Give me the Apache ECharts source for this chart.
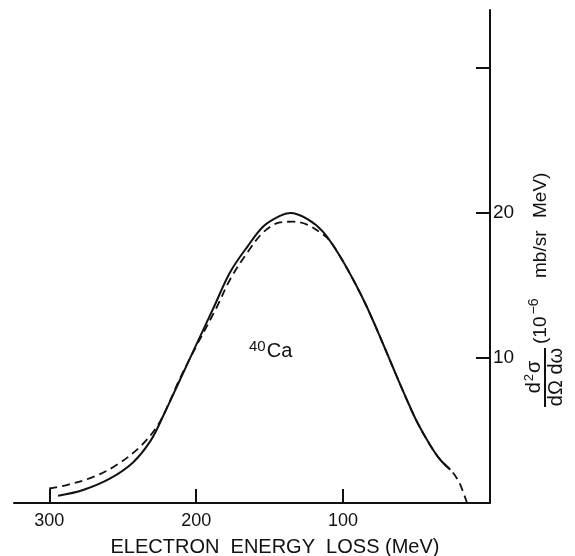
<!DOCTYPE html>
<html>
<head>
<meta charset="utf-8">
<script src="https://cdn.jsdelivr.net/npm/echarts@6/dist/echarts.min.js"></script>
<style>
  html, body { margin: 0; padding: 0; background: #fff; }
  #main { width: 575px; height: 556px; }
</style>
</head>
<body>
<div id="main"></div>
<script>
// energy loss (MeV) and d2sigma/dOmega domega (10^-6 mb/sr MeV)
var solidLoss = [294, 277, 258.5, 243, 231, 222, 211, 200, 188, 177, 165, 154, 143, 136, 124.5, 113.6, 102, 90.5, 83.7, 75, 64.6, 56.5, 49.7, 40.8, 34, 27];
var solidVal  = [0.5, 0.9, 1.7, 2.8, 4.3, 6.1, 8.5, 10.9, 13.5, 15.9, 17.7, 19.1, 19.8, 20.0, 19.6, 18.7, 17.0, 14.9, 13.5, 11.5, 9.0, 7.1, 5.6, 4.0, 3.0, 2.3];
var dashLoss = [300, 288, 270, 254, 238, 226.5, 218, 211, 200, 186, 177, 165, 154, 143, 134, 124.5, 115.6, 110, 102, 90.5, 83.7, 75, 64.6, 56.5, 49.7, 40.8, 34, 27, 23.8, 20.4, 15.6];
var dashVal  = [1.0, 1.24, 1.8, 2.63, 3.9, 5.3, 7.0, 8.6, 10.8, 13.5, 15.4, 17.3, 18.7, 19.35, 19.4, 19.2, 18.66, 18.2, 17.0, 14.9, 13.5, 11.5, 9.0, 7.1, 5.6, 4.0, 3.0, 2.3, 1.9, 1.3, 0];
var xTicks = [100, 200, 300];
var yTicks = [10, 20, 30];
var yLabels = [10, 20];

var FONT = 'Liberation Sans';
var INK = '#111';

function pairs(xs, ys) {
    return xs.map(function (x, i) { return [x, ys[i]]; });
}

// rotated y-axis title pieces (local x runs up the page)
function unitText(txt, x) {
    return {
        type: 'text',
        x: x,
        y: -3,
        style: {
            text: txt,
            fontFamily: FONT,
            fontSize: 19,
            align: 'left',
            verticalAlign: 'middle',
            fill: INK,
            rich: {
                s: { fontFamily: FONT, fontSize: 14, fill: INK, padding: [0, 0, 14, 2] }
            }
        }
    };
}

var chart = echarts.init(document.getElementById('main'));
chart.setOption({
    animation: false,
    backgroundColor: '#fff',
    grid: { left: 14, right: 85, top: 10, bottom: 53 },
    xAxis: {
        type: 'value',
        inverse: true,
        min: 0,
        max: 324,
        splitLine: { show: false },
        axisLine: { lineStyle: { color: INK, width: 2 } },
        axisTick: { inside: true, length: 14, customValues: xTicks, lineStyle: { color: INK, width: 2 } },
        axisLabel: { customValues: xTicks, margin: 9, color: INK, fontFamily: FONT, fontSize: 18 }
    },
    yAxis: {
        type: 'value',
        position: 'right',
        min: 0,
        max: 34,
        splitLine: { show: false },
        axisLine: { show: true, lineStyle: { color: INK, width: 2 } },
        axisTick: { show: true, inside: true, length: 14, customValues: yTicks, lineStyle: { color: INK, width: 2 } },
        axisLabel: { customValues: yLabels, margin: 3, color: INK, fontFamily: FONT, fontSize: 19 }
    },
    series: [
        {
            type: 'line',
            data: pairs(dashLoss, dashVal),
            smooth: 0.35,
            symbol: 'none',
            lineStyle: { color: INK, width: 1.8, type: [8, 5] },
            z: 2
        },
        {
            type: 'line',
            data: pairs(solidLoss, solidVal),
            smooth: 0.35,
            symbol: 'none',
            lineStyle: { color: INK, width: 2 },
            z: 3
        }
    ],
    graphic: [
        {
            type: 'text',
            left: 249,
            top: 339,
            style: {
                text: '{sup|40}{b|Ca}',
                fill: INK,
                rich: {
                    sup: { fontFamily: FONT, fontSize: 15, verticalAlign: 'top', padding: [0, 1, 9, 0], fill: INK },
                    b: { fontFamily: FONT, fontSize: 20, fill: INK }
                }
            }
        },
        {
            type: 'text',
            x: 275,
            y: 547,
            style: {
                text: 'ELECTRON  ENERGY  LOSS (MeV)',
                fontFamily: FONT,
                fontSize: 20,
                fill: INK,
                align: 'center',
                verticalAlign: 'middle'
            }
        },
        {
            type: 'group',
            x: 544,
            y: 272,
            rotation: Math.PI / 2,
            children: [
                {
                    type: 'text',
                    x: -105,
                    y: -10,
                    style: {
                        text: '{n|d}{s|2}{n|σ}',
                        align: 'center',
                        verticalAlign: 'middle',
                        fill: INK,
                        rich: {
                            n: { fontFamily: FONT, fontSize: 20, fill: INK },
                            s: { fontFamily: FONT, fontSize: 13, fill: INK, padding: [0, 1, 9, 1] }
                        }
                    }
                },
                {
                    type: 'line',
                    shape: { x1: -135, y1: 1, x2: -76, y2: 1 },
                    style: { stroke: INK, lineWidth: 2 }
                },
                {
                    type: 'text',
                    x: -105,
                    y: 12,
                    style: {
                        text: 'dΩ dω',
                        fontFamily: FONT,
                        fontSize: 20,
                        align: 'center',
                        verticalAlign: 'middle',
                        fill: INK
                    }
                },
                unitText('(10{s|−6}', -72),
                unitText('mb/sr', -6),
                unitText('MeV)', 54)
            ]
        }
    ]
});
</script>
</body>
</html>
